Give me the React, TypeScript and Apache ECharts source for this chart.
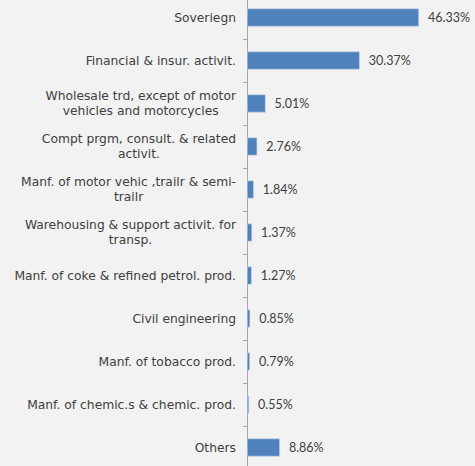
import React, { useEffect, useRef } from "react";
import * as echarts from "echarts";

const categories = [
  "Soveriegn",
  "Financial & insur. activit.",
  "Wholesale trd, except of motor\nvehicles and motorcycles",
  "Compt prgm, consult. & related\nactivit.",
  "Manf. of motor vehic ,trailr & semi-\ntrailr",
  "Warehousing & support activit. for\ntransp.",
  "Manf. of coke & refined petrol. prod.",
  "Civil engineering",
  "Manf. of tobacco prod.",
  "Manf. of chemic.s & chemic. prod.",
  "Others",
];
const values = [46.33, 30.37, 5.01, 2.76, 1.84, 1.37, 1.27, 0.85, 0.79, 0.55, 8.86];

const FONT = "DejaVu Sans";

export default function App() {
  const ref = useRef<HTMLDivElement>(null);
  useEffect(() => {
    if (!ref.current) return;
    const chart = echarts.init(ref.current, undefined, { renderer: "svg" });
    chart.setOption({
      animation: false,
      backgroundColor: "#f2f2f2",
      grid: { left: 247, top: 0, bottom: 0, width: 185.6, containLabel: false },
      xAxis: { type: "value", min: 0, max: 50, show: false },
      yAxis: {
        type: "category",
        data: categories,
        inverse: true,
        axisLine: { show: true, lineStyle: { color: "#a6a6a6", width: 1 } },
        axisTick: { show: true, length: 4, lineStyle: { color: "#a6a6a6" } },
        axisLabel: {
          margin: 11,
          color: "#404040",
          fontFamily: FONT,
          fontSize: 12.3,
          lineHeight: 15,
          align: "right",
          formatter: (v: string) => `{c|${v}}`,
          rich: {
            c: {
              align: "center",
              color: "#404040",
              fontFamily: FONT,
              fontSize: 12.3,
              lineHeight: 15,
            },
          },
        },
      },
      series: [
        {
          type: "bar",
          data: values,
          barWidth: 18,
          itemStyle: { color: "#4f81bd", borderColor: "#c9d7ea", borderWidth: 0.6 },
          label: {
            show: true,
            position: "right",
            distance: 9,
            color: "#404040",
            fontFamily: "Lato",
            fontSize: 12.5,
            formatter: (p: any) => p.value.toFixed(2) + "%",
          },
        },
      ],
    });
    return () => chart.dispose();
  }, []);
  return (
    <div
      ref={ref}
      style={{ position: "fixed", left: 0, top: -4, width: 475, height: 473, background: "#f2f2f2" }}
    />
  );
}
